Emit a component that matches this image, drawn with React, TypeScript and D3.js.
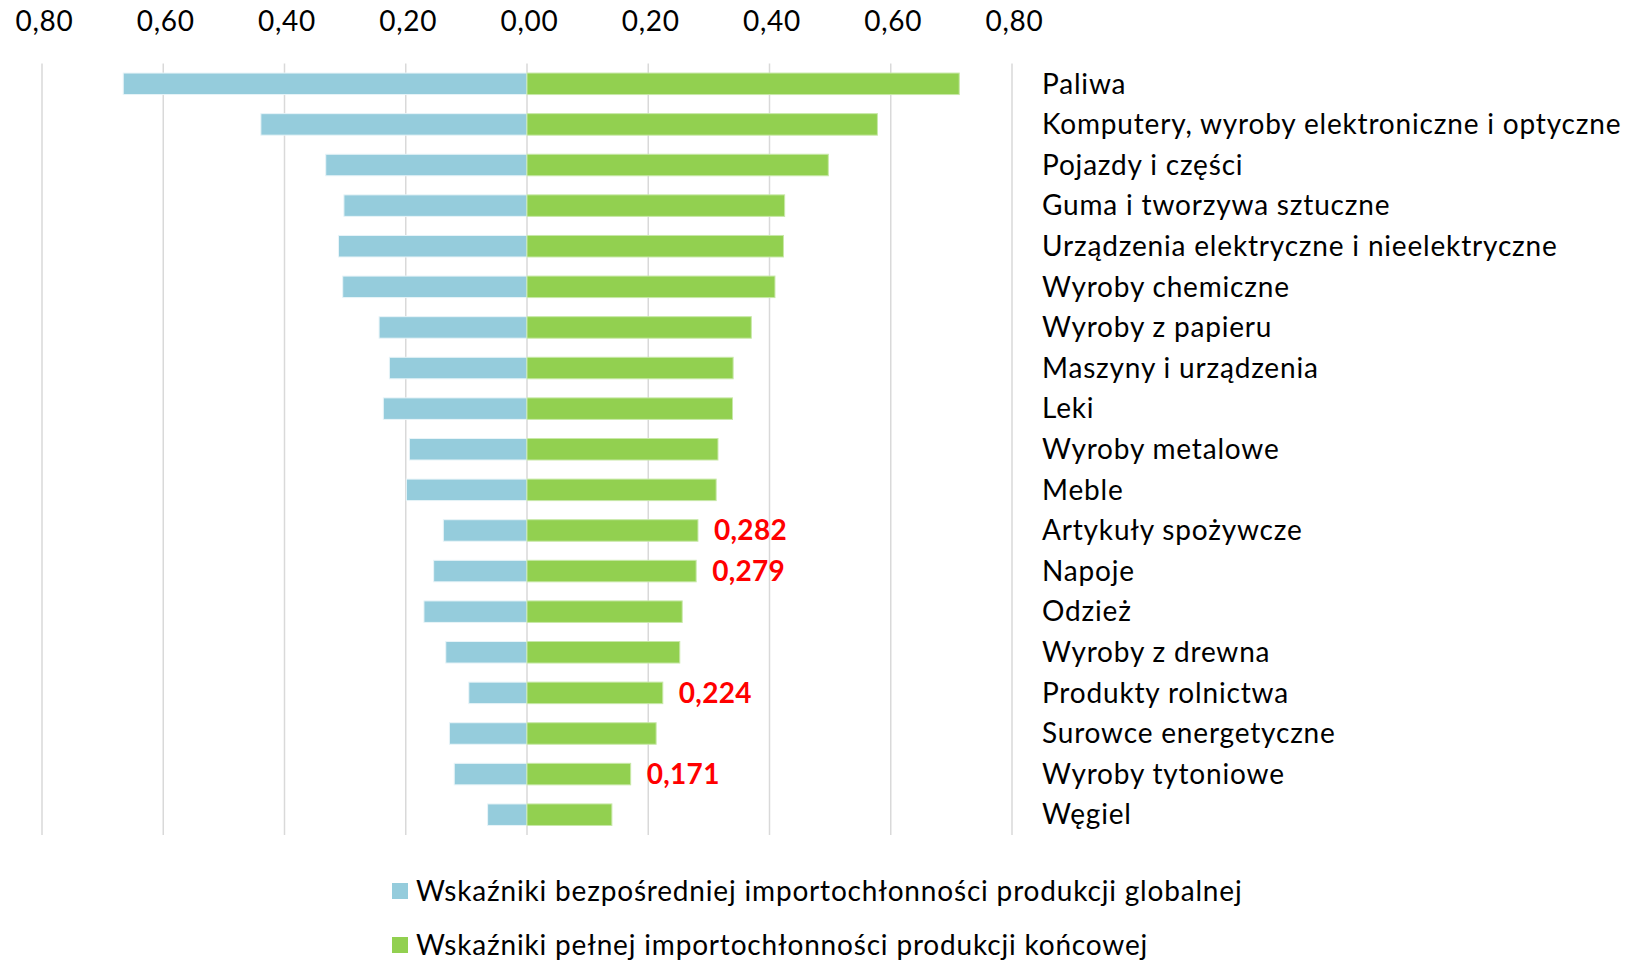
import { useEffect, useRef } from 'react';
import * as d3 from 'd3';

const WIDTH = 1639;
const HEIGHT = 962;
const PLOT = { left: 42, right: 1012, top: 63.5, bottom: 835 };
const FONT = 'Lato, "Open Sans", sans-serif';
const FONT_SIZE = 28;
const SPACING = 0.82;

const categories = [
    'Paliwa',
    'Komputery, wyroby elektroniczne i optyczne',
    'Pojazdy i części',
    'Guma i tworzywa sztuczne',
    'Urządzenia elektryczne i nieelektryczne',
    'Wyroby chemiczne',
    'Wyroby z papieru',
    'Maszyny i urządzenia',
    'Leki',
    'Wyroby metalowe',
    'Meble',
    'Artykuły spożywcze',
    'Napoje',
    'Odzież',
    'Wyroby z drewna',
    'Produkty rolnictwa',
    'Surowce energetyczne',
    'Wyroby tytoniowe',
    'Węgiel',
];

// wskaźniki bezpośredniej importochłonności produkcji globalnej (left side)
const directValues = [
    0.666, 0.439, 0.332, 0.302, 0.311, 0.304, 0.244, 0.227, 0.237, 0.194,
    0.199, 0.138, 0.154, 0.170, 0.134, 0.096, 0.128, 0.120, 0.065,
];

// wskaźniki pełnej importochłonności produkcji końcowej (right side)
const totalValues = [
    0.713, 0.578, 0.497, 0.425, 0.423, 0.409, 0.370, 0.340, 0.339, 0.315,
    0.312, 0.282, 0.279, 0.256, 0.252, 0.224, 0.213, 0.171, 0.140,
];

const labelled = ['Artykuły spożywcze', 'Napoje', 'Produkty rolnictwa', 'Wyroby tytoniowe'];

const tickValues = [-0.8, -0.6, -0.4, -0.2, 0, 0.2, 0.4, 0.6, 0.8];

const legendItems = [
    { label: 'Wskaźniki bezpośredniej importochłonności produkcji globalnej', color: '#95CCDC' },
    { label: 'Wskaźniki pełnej importochłonności produkcji końcowej', color: '#92D050' },
];

const fmt = (v: number, digits: number) => Math.abs(v).toFixed(digits).replace('.', ',');

const App = () => {
    const axisRef = useRef<SVGGElement>(null);

    useEffect(() => {
        document.body.style.margin = '0';
    }, []);

    const xScale = d3.scaleLinear().domain([-0.8, 0.8]).range([PLOT.left, PLOT.right]);
    const yScale = d3
        .scaleBand()
        .domain(categories)
        .range([PLOT.top, PLOT.bottom])
        .paddingInner(0.47)
        .paddingOuter(0.235);

    useEffect(() => {
        const g = d3.select(axisRef.current);
        g.selectAll('*').remove();
        const axis = d3
            .axisTop(xScale)
            .tickValues(tickValues)
            .tickSize(0)
            .tickPadding(0)
            .tickFormat((d) => fmt(d as number, 2));
        g.call(axis);
        g.select('.domain').remove();
        g.selectAll('text')
            .attr('font-family', FONT)
            .attr('font-size', FONT_SIZE)
            .attr('letter-spacing', 0.7)
            .attr('fill', '#000')
            .attr('dy', '0.35em')
            .attr('y', 0);
    }, [xScale]);

    const bw = yScale.bandwidth();
    const x0 = xScale(0);

    return (
        <svg width={WIDTH} height={HEIGHT} style={{ display: 'block', background: '#fff' }}>
            {tickValues.map((t) => (
                <line
                    key={t}
                    x1={xScale(t)}
                    x2={xScale(t)}
                    y1={PLOT.top}
                    y2={PLOT.bottom}
                    stroke="#d9d9d9"
                    strokeWidth={1.5}
                />
            ))}
            <g ref={axisRef} transform="translate(2,21)" />
            {categories.map((c, i) => {
                const y = yScale(c) || 0;
                return (
                    <g key={c}>
                        <rect
                            x={xScale(-directValues[i])}
                            y={y}
                            width={x0 - xScale(-directValues[i])}
                            height={bw}
                            fill={legendItems[0].color}
                            stroke="#e8f4f8"
                            strokeWidth={1}
                        />
                        <rect
                            x={x0}
                            y={y}
                            width={xScale(totalValues[i]) - x0}
                            height={bw}
                            fill={legendItems[1].color}
                            stroke="#c8e8a8"
                            strokeWidth={1}
                        />
                        {labelled.includes(c) && (
                            <text
                                x={xScale(totalValues[i]) + 16}
                                y={y + bw / 2}
                                dy="0.35em"
                                fontFamily={FONT}
                                fontWeight="bold"
                                fontSize={FONT_SIZE}
                                letterSpacing={0.3}
                                fill="#ff0000"
                            >
                                {fmt(totalValues[i], 3)}
                            </text>
                        )}
                        <text
                            x={1042}
                            y={y + bw / 2}
                            dy="0.35em"
                            fontFamily={FONT}
                            fontSize={FONT_SIZE}
                            letterSpacing={SPACING}
                            fill="#000"
                        >
                            {c}
                        </text>
                    </g>
                );
            })}
            {legendItems.map((item, i) => (
                <g key={item.label} transform={`translate(392,${891 + i * 54})`}>
                    <rect x={0} y={-8} width={16} height={16} fill={item.color} />
                    <text
                        x={24}
                        y={0}
                        dy="0.35em"
                        fontFamily={FONT}
                        fontSize={FONT_SIZE}
                        letterSpacing={SPACING}
                        fill="#000"
                    >
                        {item.label}
                    </text>
                </g>
            ))}
        </svg>
    );
};

export default App;
